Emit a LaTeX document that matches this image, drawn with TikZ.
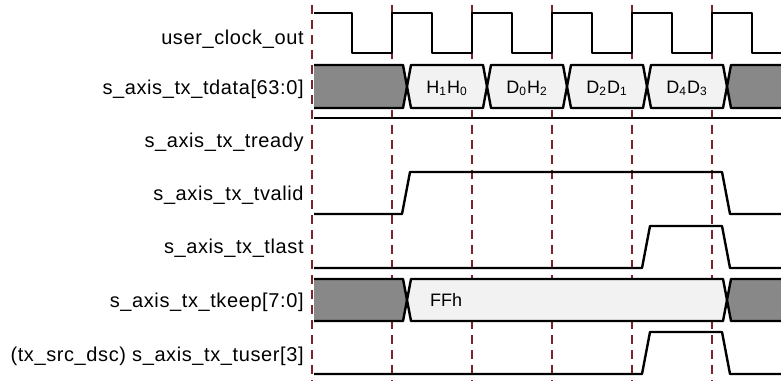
\documentclass[tikz,border=0pt]{standalone}
\usepackage{fontspec}
\setmainfont{Liberation Sans}
\newfontfamily\sigfont[LetterSpace=3]{Liberation Sans}
\definecolor{cyclered}{RGB}{122,35,45}
\definecolor{busgrey}{RGB}{136,136,136}
\definecolor{buswhite}{RGB}{242,242,242}

\begin{document}
\begin{tikzpicture}[
    x=0.5pt, y=-0.5pt,
    wave/.style={line width=1.2pt, line join=round},
    cycleline/.style={cyclered, line width=0.6pt, dash pattern=on 4.5pt off 3pt},
    signame/.style={anchor=base east, inner sep=0pt, font=\sigfont\fontsize{10pt}{12pt}\selectfont},
    busval/.style={anchor=base, inner sep=0pt, font=\fontsize{9pt}{11pt}\selectfont}
]
\useasboundingbox (0,0) rectangle (781,381);

% Clock cycle markers
\draw[cycleline] (312,5) -- (312,381);
\draw[cycleline] (392,5) -- (392,381);
\draw[cycleline] (472,5) -- (472,381);
\draw[cycleline] (552,5) -- (552,381);
\draw[cycleline] (632,5) -- (632,381);
\draw[cycleline] (712,5) -- (712,381);

% Signal names
\node[signame] (clk) at (304,44) {user\_clock\_out};
\node[signame] (tdata) at (304,94) {s\_axis\_tx\_tdata[63:0]};
\node[signame] (tready) at (304,147) {s\_axis\_tx\_tready};
\node[signame] (tvalid) at (304,200) {s\_axis\_tx\_tvalid};
\node[signame] (tlast) at (304,253) {s\_axis\_tx\_tlast};
\node[signame] (tkeep) at (304,307) {s\_axis\_tx\_tkeep[7:0]};
\node[signame] (tuser) at (304,361) {(tx\_src\_dsc) s\_axis\_tx\_tuser[3]};

% user_clock_out
\draw[wave] (314,13) -| (352,53) -| (392,13) -| (432,53) -| (472,13) -| (512,53)
    -| (552,13) -| (592,53) -| (632,13) -| (672,53) -| (712,13) -| (752,53) -- (785,53);

% tdata bus
\fill[busgrey] (314,65) -- (403,65) -- (407,86.5) -- (403,108) -- (314,108) -- cycle;
\draw[wave] (314,65) -- (403,65) -- (407,86.5) -- (403,108) -- (314,108);
\draw[wave, fill=buswhite] (407,86.5) -- (411,65) -- (483,65) -- (487,86.5) -- (483,108) -- (411,108) -- cycle;
\draw[wave, fill=buswhite] (487,86.5) -- (491,65) -- (563,65) -- (567,86.5) -- (563,108) -- (491,108) -- cycle;
\draw[wave, fill=buswhite] (567,86.5) -- (571,65) -- (643,65) -- (647,86.5) -- (643,108) -- (571,108) -- cycle;
\draw[wave, fill=buswhite] (647,86.5) -- (651,65) -- (723,65) -- (727,86.5) -- (723,108) -- (651,108) -- cycle;
\draw[wave, fill=busgrey] (727,86.5) -- (731,65) -- (790,65) -- (790,108) -- (731,108) -- cycle;
\node[busval] (h1h0) at (447,93) {H\textsubscript{1}H\textsubscript{0}};
\node[busval] (d0h2) at (527,93) {D\textsubscript{0}H\textsubscript{2}};
\node[busval] (d2d1) at (607,93) {D\textsubscript{2}D\textsubscript{1}};
\node[busval] (d4d3) at (687,93) {D\textsubscript{4}D\textsubscript{3}};

% tready
\draw[wave] (314,118) -- (785,118);

% tvalid
\draw[wave] (314,214) -- (402,214) -- (410,172) -- (722,172) -- (730,214) -- (785,214);

% tlast
\draw[wave] (314,268) -- (642,268) -- (650,226) -- (722,226) -- (730,268) -- (785,268);

% tkeep bus
\fill[busgrey] (314,279) -- (403,279) -- (407,300) -- (403,321) -- (314,321) -- cycle;
\draw[wave] (314,279) -- (403,279) -- (407,300) -- (403,321) -- (314,321);
\draw[wave, fill=buswhite] (407,300) -- (411,279) -- (723,279) -- (727,300) -- (723,321) -- (411,321) -- cycle;
\draw[wave, fill=busgrey] (727,300) -- (731,279) -- (790,279) -- (790,321) -- (731,321) -- cycle;
\node[busval] (ffh) at (446,306.5) {FFh};

% tuser[3]
\draw[wave] (314,374) -- (642,374) -- (650,332) -- (722,332) -- (730,374) -- (785,374);

\end{tikzpicture}
\end{document}
